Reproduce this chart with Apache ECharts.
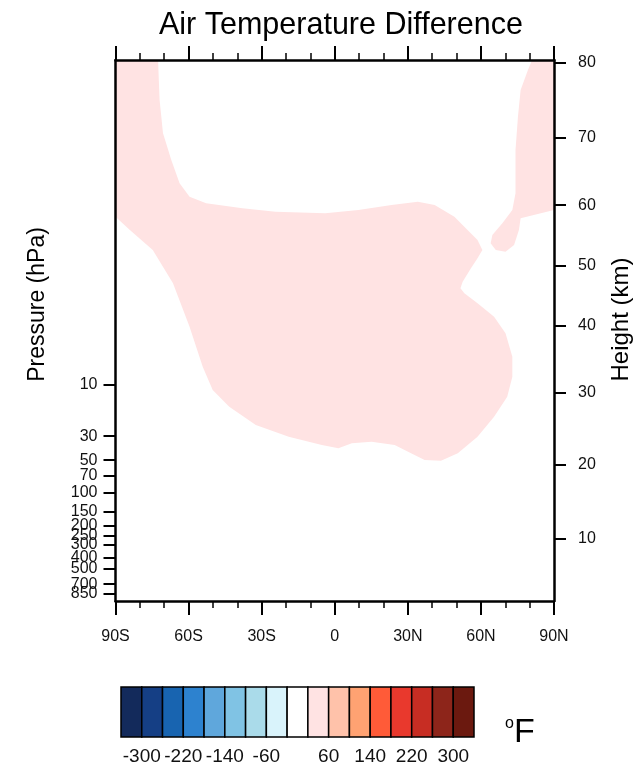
<!DOCTYPE html>
<html>
<head>
<meta charset="utf-8">
<script src="https://cdn.jsdelivr.net/npm/echarts@6/dist/echarts.min.js"></script>
<style>
html,body{margin:0;padding:0;background:#fff;}
#chart{width:641px;height:772px;}
</style>
</head>
<body>
<div id="chart"></div>
<script>
// ---- data ----
const xTickValues = [-90, -60, -30, 0, 30, 60, 90];
const xTickLabels = ['90S', '60S', '30S', '0', '30N', '60N', '90N'];
const pressureTicks = [10, 30, 50, 70, 100, 150, 200, 250, 300, 400, 500, 700, 850];
const heightTicks = [10, 20, 30, 40, 50, 60, 70, 80];
const heightTickPressures = [265.0, 55.29, 11.97, 2.871, 0.7978, 0.2196, 0.05221, 0.01052];
const pressureRange = [0.01, 1000];

const levels = [-300, -260, -220, -180, -140, -100, -60, -20, 20, 60, 100, 140, 180, 220, 260, 300];
const levelColors = ['#132a5b', '#153f85', '#1864b0', '#2d82cf', '#5fa7dc', '#80c3e4', '#aadbea', '#d9f3fb',
  '#ffffff', '#ffe3e3', '#ffc2aa', '#ffa272', '#ff5b38', '#e9392d', '#c72d23', '#8d251a', '#6b190f'];
const colorbarLabels = [-300, -220, -140, -60, 60, 140, 220, 300];
const regionLowerLevel = 20; // shaded region lies between 20 and 60

// contour boundary of the shaded region (latitude, pressure hPa)
const regionALat = [-90, -72.5, -72.3, -71.9, -70.5, -67.1, -63.7, -59.6, -52.8, -37.9, -24.3, -3.9, 9.7, 23.3,
  34.1, 41.0, 49.1, 54.5, 58.6, 60.6, 58.6, 55.9, 52.5, 51.6, 53.2, 58.6, 65.4, 70.1, 72.9, 72.9, 70.8, 65.4,
  58.6, 50.5, 43.6, 36.9, 30.1, 24.6, 15.1, 7.0, 1.5, -5.3, -18.9, -32.4, -43.3, -50.1, -54.2, -59.6, -66.4,
  -74.7, -84.1, -90];
const regionAP = [0.01, 0.01, 0.0138, 0.0234, 0.0476, 0.084, 0.1378, 0.1834, 0.2111, 0.2348, 0.2523, 0.2611,
  0.2433, 0.2188, 0.204, 0.2188, 0.2806, 0.3725, 0.4609, 0.5702, 0.6803, 0.8416, 1.119, 1.288, 1.433, 1.773,
  2.358, 3.357, 5.523, 8.45, 12.93, 19.8, 30.3, 43.14, 50.5, 49.75, 41.7, 36.16, 33.71, 34.88, 38.8, 36.16,
  30.3, 23.62, 16.0, 11.22, 6.83, 2.917, 1.158, 0.5702, 0.3725, 0.2806];
const regionBLat = [81.0, 90, 90, 76.3, 75.6, 73.6, 70.1, 66.1, 64.0, 64.7, 68.8, 72.9, 74.2, 74.2, 75.2, 76.3, 79.3];
const regionBP = [0.01, 0.01, 0.2433, 0.2904, 0.3725, 0.5126, 0.591, 0.5702, 0.4943, 0.4148, 0.323, 0.2433,
  0.1706, 0.0679, 0.0334, 0.0189, 0.0124];

// ---- chart ----
const FONT = 'Liberation Sans, Arial, Helvetica, sans-serif';
const lg = v => Math.log10(v);
const regionColor = levelColors[levels.indexOf(regionLowerLevel) + 1];

function polygonRenderer(lats, ps, color) {
  return function (params, api) {
    const pts = lats.map((la, i) => api.coord([la, lg(ps[i])]));
    return { type: 'polygon', shape: { points: pts }, style: { fill: color, stroke: null } };
  };
}

function matchLabel(v, vals, labels) {
  for (let i = 0; i < vals.length; i++) if (Math.abs(vals[i] - v) < 1e-6) return String(labels[i]);
  return '';
}

const pLogs = pressureTicks.map(lg);
const pLabelPositions = pLogs.concat([lg(pressureRange[1])]); // trailing blank label at axis end
const hLogs = heightTickPressures.map(lg);
const cbPositions = colorbarLabels.map(l => levels.indexOf(l) + 1);

const axisLineStyle = { color: '#000', width: 2.5 };

const chart = echarts.init(document.getElementById('chart'), null, { renderer: 'canvas' });
chart.setOption({
  backgroundColor: '#fff',
  animation: false,
  textStyle: { fontFamily: FONT },
  title: [
    { text: 'Air Temperature Difference', left: 154, top: 5,
      textStyle: { fontFamily: FONT, fontSize: 30.5, fontWeight: 'normal', color: '#000' } },
    { text: '{s|o}{b|F}', left: 500, top: 711,
      textStyle: { fontWeight: 'normal', rich: {
        s: { fontSize: 16, fontFamily: FONT, fontWeight: 'normal', verticalAlign: 'top', padding: [0, 0, 14, 0], color: '#000' },
        b: { fontSize: 34, fontFamily: FONT, fontWeight: 'normal', color: '#000' } } } }
  ],
  grid: [
    { left: 115.5, right: 84, top: 60, bottom: 171 },
    { left: 121, width: 353, top: 687, height: 50 }
  ],
  xAxis: [
    { type: 'value', gridIndex: 0, position: 'bottom', min: -90, max: 90, interval: 30, z: 5,
      axisLine: { show: true, onZero: false, lineStyle: axisLineStyle },
      axisTick: { show: true, length: 14, lineStyle: { width: 2, color: '#000' } },
      minorTick: { show: true, splitNumber: 3, length: 7, lineStyle: { width: 1.5, color: '#000' } },
      splitLine: { show: false },
      axisLabel: { margin: 28, fontSize: 16, color: '#111', fontFamily: FONT,
        formatter: v => matchLabel(v, xTickValues, xTickLabels) } },
    { type: 'value', gridIndex: 0, position: 'top', min: -90, max: 90, interval: 30, z: 5,
      axisLine: { show: true, onZero: false, lineStyle: axisLineStyle },
      axisTick: { show: true, length: 14, lineStyle: { width: 2, color: '#000' } },
      minorTick: { show: true, splitNumber: 3, length: 7, lineStyle: { width: 1.5, color: '#000' } },
      splitLine: { show: false }, axisLabel: { show: false } },
    { type: 'value', gridIndex: 1, min: 0, max: levelColors.length,
      axisLine: { show: false, onZero: false }, axisTick: { show: false }, splitLine: { show: false },
      axisLabel: { margin: 10, fontSize: 19, color: '#111', fontFamily: FONT,
        customValues: cbPositions,
        formatter: v => matchLabel(v, cbPositions, colorbarLabels) } }
  ],
  yAxis: [
    { type: 'value', gridIndex: 0, position: 'left', inverse: true,
      min: lg(pressureRange[0]), max: lg(pressureRange[1]), z: 5,
      name: 'Pressure (hPa)', nameLocation: 'middle', nameGap: 66, nameRotate: 90,
      nameTextStyle: { fontSize: 23, fontFamily: FONT, color: '#000', padding: [0, 0, 0, 52] },
      axisLine: { show: true, onZero: false, lineStyle: axisLineStyle },
      axisTick: { show: true, length: 12, customValues: pLogs, lineStyle: { width: 2, color: '#000' } },
      splitLine: { show: false },
      axisLabel: { margin: 18, fontSize: 16, color: '#111', fontFamily: FONT, customValues: pLabelPositions,
        hideOverlap: false, showMinLabel: true, showMaxLabel: true,
        formatter: v => matchLabel(v, pLogs, pressureTicks) } },
    { type: 'value', gridIndex: 0, position: 'right', inverse: true,
      min: lg(pressureRange[0]), max: lg(pressureRange[1]), z: 5,
      name: 'Height (km)', nameLocation: 'middle', nameGap: 55, nameRotate: 90,
      nameTextStyle: { fontSize: 24, fontFamily: FONT, color: '#000', padding: [0, 0, 0, 22] },
      axisLine: { show: true, onZero: false, lineStyle: axisLineStyle },
      axisTick: { show: true, length: 12, customValues: hLogs, lineStyle: { width: 2, color: '#000' } },
      splitLine: { show: false },
      axisLabel: { margin: 24, fontSize: 16, color: '#111', fontFamily: FONT, customValues: hLogs,
        hideOverlap: false, showMinLabel: true, showMaxLabel: true,
        formatter: v => matchLabel(v, hLogs, heightTicks) } },
    { type: 'value', gridIndex: 1, min: 0, max: 1, show: false }
  ],
  series: [
    { type: 'custom', xAxisIndex: 0, yAxisIndex: 0, silent: true, z: 1, clip: true,
      renderItem: polygonRenderer(regionALat, regionAP, regionColor),
      data: [[regionALat[0], lg(regionAP[0])]] },
    { type: 'custom', xAxisIndex: 0, yAxisIndex: 0, silent: true, z: 1, clip: true,
      renderItem: polygonRenderer(regionBLat, regionBP, regionColor),
      data: [[regionBLat[0], lg(regionBP[0])]] },
    { type: 'custom', xAxisIndex: 2, yAxisIndex: 2, silent: true, z: 2,
      data: levelColors.map((c, i) => [i, 0]),
      renderItem: function (params, api) {
        const i = api.value(0);
        const p0 = api.coord([i, 1]);
        const p1 = api.coord([i + 1, 0]);
        return { type: 'rect', shape: { x: p0[0], y: p0[1], width: p1[0] - p0[0], height: p1[1] - p0[1] },
          style: { fill: levelColors[i], stroke: '#000', lineWidth: 1.5 } };
      } }
  ]
});
</script>
</body>
</html>
